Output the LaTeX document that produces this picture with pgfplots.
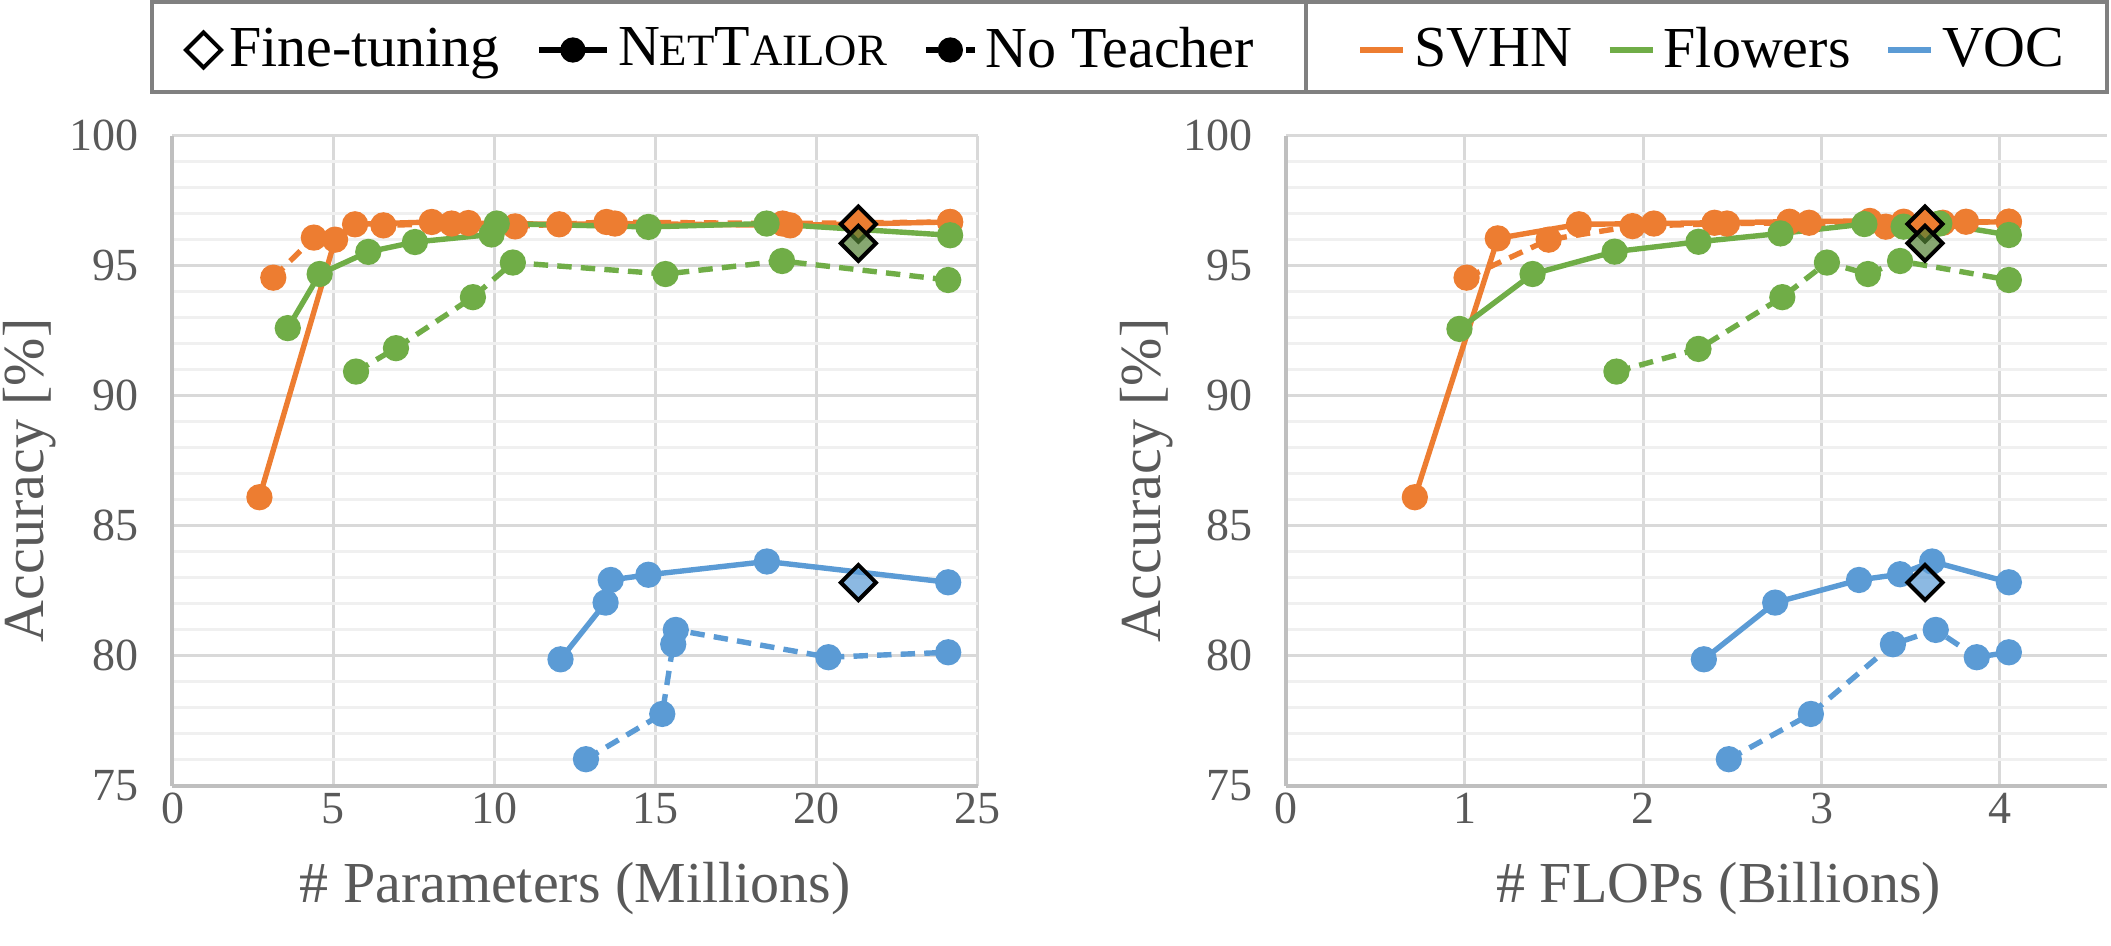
\documentclass[border=0pt]{standalone}
\usepackage{fontspec}
\setmainfont{Liberation Serif}
\usepackage{pgfplots}
\pgfplotsset{compat=1.18}

\definecolor{svhn}{RGB}{237,125,49}
\definecolor{flw}{RGB}{112,173,71}
\definecolor{voc}{RGB}{91,155,213}
\definecolor{flwdark}{RGB}{84,130,53}
\definecolor{gridmaj}{RGB}{217,217,217}
\definecolor{gridmin}{RGB}{240,240,240}
\definecolor{axisgray}{RGB}{191,191,191}
\definecolor{labgray}{RGB}{89,89,89}
\definecolor{framegray}{RGB}{128,128,128}

\newcommand{\NT}{N{\fontsize{11.2}{12}\selectfont ET}T{\fontsize{11.2}{12}\selectfont AILOR}}

\pgfplotsset{
  panel/.style={
    scale only axis, height=162.6pt,
    ymin=75, ymax=100, ytick={75,80,...,100},
    minor y tick num=4,
    xmajorgrids, ymajorgrids, yminorgrids,
    major grid style={gridmaj, line width=0.75pt},
    minor grid style={gridmin, line width=0.75pt},
    axis x line*=bottom, axis y line*=left,
    axis line style={axisgray, line width=1pt, -},
    tick style={draw=none},
    ticklabel style={font=\fontsize{11.5}{13}\selectfont, text=labgray},
    yticklabel style={xshift=-5pt},
    xticklabel style={yshift=1.8pt},
    label style={font=\fontsize{14.5}{16}\selectfont, text=labgray},
    /pgf/number format/assume math mode=true,
    ylabel={Accuracy [\%]},
  },
  nt/.style={line width=1.35pt, mark=*, mark size=2.6pt},
  nk/.style={line width=1.35pt, mark=*, mark size=2.6pt,
    dash pattern=on 3.6pt off 2.3pt, mark options={solid}},
  ft/.style={only marks, mark=square*, mark size=3.1pt},
  shortdash legend/.style={legend image code/.code={%
    \draw[#1, mark repeat=2, mark phase=2]
      plot coordinates {(0pt,0pt) (6.1pt,0pt) (12.2pt,0pt)};}},
  shortline legend/.style={legend image code/.code={%
    \draw[#1] (0pt,0pt) -- (10.75pt,0pt);}},
}

\begin{document}
\begin{tikzpicture}
\useasboundingbox (0,0) rectangle (527.75pt,236.25pt);

% ---------------- parameters panel ----------------
\begin{axis}[panel, at={(43.125pt,39.75pt)}, anchor=south west,
  width=201.25pt, xmin=0, xmax=25, xtick={0,5,...,25},
  xlabel={\# Parameters (Millions)},
  xlabel style={at={(axis description cs:0.5,-0.158)}, anchor=center},
  ylabel style={at={(axis description cs:-0.2118,0.47)}, anchor=north, inner sep=0pt},
  legend columns=3,
  legend style={draw=none, fill=none, at={(axis description cs:0.685,1.1316)},
    anchor=center, font=\fontsize{14.5}{16}\selectfont, text=black,
    /tikz/every even column/.append style={column sep=7pt}},
]
\addlegendimage{only marks, mark=square, mark size=3.1pt,
  mark options={rotate=45, black, line width=1pt}}
\addlegendentry{Fine-tuning}
\addlegendimage{black, line width=1.5pt, mark=*, mark size=2.4pt}
\addlegendentry{\NT}
\addlegendimage{black, line width=1.5pt, mark=*, mark size=2.4pt,
  dash pattern=on 3pt off 2pt, mark options={solid}, shortdash legend}
\addlegendentry{No Teacher}

\addplot[nt, svhn, forget plot] coordinates {
  (2.70,86.10) (5.05,96.00) (5.67,96.59) (8.05,96.68) (9.19,96.64)
  (12.01,96.59) (13.74,96.62) (19.18,96.55) (24.15,96.68)};
\addplot[nk, svhn, forget plot] coordinates {
  (3.13,94.54) (4.39,96.08) (6.55,96.55) (8.67,96.62) (10.64,96.51)
  (13.48,96.68) (18.95,96.62) (24.15,96.68)};
\addplot[nt, flw, forget plot] coordinates {
  (3.58,92.60) (4.57,94.68) (6.08,95.53) (7.53,95.91) (9.91,96.20)
  (10.07,96.62) (14.78,96.49) (18.45,96.62) (24.15,96.17)};
\addplot[nk, flw, forget plot] coordinates {
  (5.70,90.93) (6.94,91.83) (9.33,93.79) (10.57,95.12) (15.31,94.68)
  (18.93,95.18) (24.09,94.45)};
\addplot[nt, voc, forget plot] coordinates {
  (12.05,79.87) (13.45,82.05) (13.61,82.92) (14.78,83.12) (18.46,83.63)
  (24.09,82.83)};
\addplot[nk, voc, forget plot] coordinates {
  (12.84,76.03) (15.21,77.77) (15.55,80.45) (15.63,81.00) (20.37,79.95)
  (24.09,80.14)};
\addplot[ft, mark options={rotate=45, draw=black, line width=1pt, fill=svhn}, forget plot]
  coordinates {(21.30,96.60)};
\addplot[ft, mark options={rotate=45, draw=black, line width=1pt, fill=flwdark, fill opacity=0.7}, forget plot]
  coordinates {(21.30,95.86)};
\addplot[ft, mark options={rotate=45, draw=black, line width=1pt, fill=voc, fill opacity=0.7}, forget plot]
  coordinates {(21.30,82.82)};
\end{axis}

% ---------------- FLOPs panel ----------------
\begin{axis}[panel, at={(321.6pt,39.75pt)}, anchor=south west,
  width=205.15pt, xmin=0, xmax=4.6, xtick={0,1,...,4},
  xlabel={\# FLOPs (Billions)},
  xlabel style={at={(axis description cs:0.527,-0.158)}, anchor=center},
  ylabel style={at={(axis description cs:-0.204,0.47)}, anchor=north, inner sep=0pt},
  legend columns=3,
  legend style={draw=none, fill=none, at={(axis description cs:0.522,1.1316)},
    anchor=center, font=\fontsize{14.5}{16}\selectfont, text=black,
    /tikz/every even column/.append style={column sep=6.5pt}},
]
\addlegendimage{svhn, line width=1.6pt, shortline legend}
\addlegendentry{SVHN}
\addlegendimage{flw, line width=1.6pt, shortline legend}
\addlegendentry{Flowers}
\addlegendimage{voc, line width=1.6pt, shortline legend}
\addlegendentry{VOC}

\addplot[nt, svhn, forget plot] coordinates {
  (0.72,86.10) (1.185,96.05) (1.64,96.59) (2.06,96.62) (2.40,96.65)
  (2.82,96.69) (3.27,96.72) (3.68,96.65) (4.05,96.69)};
\addplot[nk, svhn, forget plot] coordinates {
  (1.01,94.54) (1.47,96.00) (1.94,96.52) (2.47,96.62) (2.93,96.65)
  (3.36,96.50) (3.46,96.69) (3.81,96.69) (4.05,96.69)};
\addplot[nt, flw, forget plot] coordinates {
  (0.97,92.57) (1.38,94.68) (1.84,95.54) (2.31,95.92) (2.77,96.24)
  (3.24,96.60) (3.46,96.50) (3.66,96.62) (4.05,96.18)};
\addplot[nk, flw, forget plot] coordinates {
  (1.85,90.93) (2.31,91.80) (2.78,93.79) (3.03,95.12) (3.26,94.68)
  (3.44,95.18) (4.05,94.45)};
\addplot[nt, voc, forget plot] coordinates {
  (2.34,79.87) (2.74,82.05) (3.21,82.92) (3.44,83.14) (3.62,83.63)
  (4.05,82.83)};
\addplot[nk, voc, forget plot] coordinates {
  (2.48,76.03) (2.94,77.77) (3.40,80.45) (3.64,81.00) (3.87,79.95)
  (4.05,80.14)};
\addplot[ft, mark options={rotate=45, draw=black, line width=1pt, fill=svhn}, forget plot]
  coordinates {(3.58,96.60)};
\addplot[ft, mark options={rotate=45, draw=black, line width=1pt, fill=flwdark, fill opacity=0.7}, forget plot]
  coordinates {(3.58,95.86)};
\addplot[ft, mark options={rotate=45, draw=black, line width=1pt, fill=voc, fill opacity=0.7}, forget plot]
  coordinates {(3.58,82.82)};
\end{axis}

% legend frame
\draw[framegray, line width=1pt] (38pt,213.25pt) rectangle (526.75pt,235.75pt);
\draw[framegray, line width=1pt] (326.5pt,213.25pt) -- (326.5pt,235.75pt);
\end{tikzpicture}
\end{document}
